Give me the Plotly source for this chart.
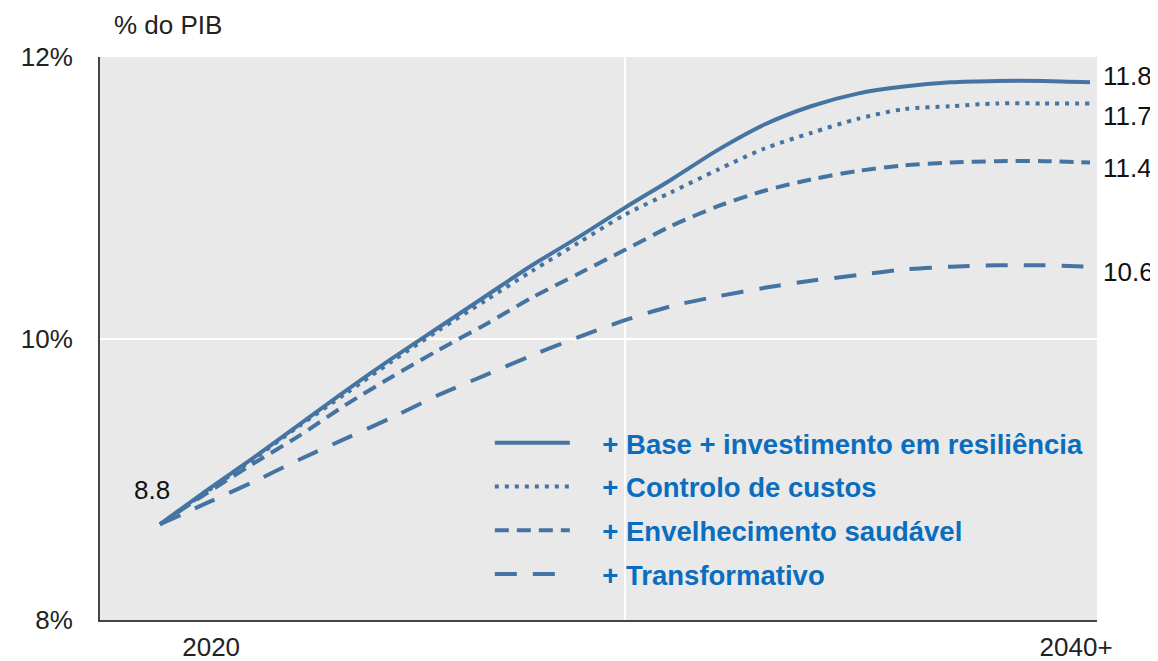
import plotly.graph_objects as go

# anos (2040 = "2040+")
anos = list(range(2020, 2041))

# % do PIB
base_resiliencia = [8.68, 8.92, 9.15, 9.39, 9.63, 9.86, 10.08, 10.30, 10.52, 10.72, 10.93,
                    11.13, 11.34, 11.52, 11.65, 11.74, 11.79, 11.82, 11.83, 11.83, 11.82]
controlo_custos = [8.68, 8.91, 9.14, 9.38, 9.61, 9.84, 10.06, 10.27, 10.48, 10.68, 10.88,
                   11.04, 11.20, 11.35, 11.46, 11.56, 11.63, 11.65, 11.67, 11.67, 11.67]
envelhecimento = [8.68, 8.90, 9.11, 9.31, 9.53, 9.73, 9.92, 10.10, 10.29, 10.46, 10.63,
                  10.80, 10.94, 11.05, 11.13, 11.19, 11.23, 11.25, 11.26, 11.26, 11.25]
transformativo = [8.68, 8.83, 8.98, 9.14, 9.29, 9.44, 9.60, 9.74, 9.88, 10.01, 10.13,
                  10.23, 10.30, 10.36, 10.41, 10.45, 10.49, 10.51, 10.52, 10.52, 10.51]

nomes = ['+ Base + investimento em resiliência', '+ Controlo de custos',
         '+ Envelhecimento saudável', '+ Transformativo']
rotulos_fim = ['11.8', '11.7', '11.4', '10.6']
rotulo_inicio = '8.8'

ytick_vals = [8, 10, 12]
ytick_text = ['8%', '10%', '12%']
xtick_text = ['2020', '2040+']

series = [base_resiliencia, controlo_custos, envelhecimento, transformativo]
tracos = ['solid', '4px,6px', '14px,8px', '22px,16px']
desvio_rotulo = [6, -13, -5, -5]  # deslocamento vertical dos rótulos finais

COR = '#4674a2'
FONTE = 'Liberation Sans, Arial'

fig = go.Figure()

for i, (nome, y) in enumerate(zip(nomes, series)):
    fig.add_trace(go.Scatter(
        x=anos, y=y, name='\u2003' + nome, mode='lines',
        line=dict(color=COR, width=4, dash=tracos[i], shape='spline', smoothing=0.8),
        legendgroup=str(i),
    ))
    fig.add_annotation(x=1.0, xref='paper', y=y[-1], yref='y', text=rotulos_fim[i],
                       showarrow=False, xanchor='left', xshift=4, yshift=desvio_rotulo[i],
                       font=dict(size=26, color='#111111', family=FONTE))

fig.add_annotation(x=anos[0], y=base_resiliencia[0], text=rotulo_inicio, showarrow=False,
                   yshift=34, xshift=-8, font=dict(size=26, color='#111111', family=FONTE))

fig.add_annotation(x=0.012, xref='paper', y=1.0, yref='paper', yshift=32, yanchor='middle',
                   text='% do PIB', showarrow=False,
                   font=dict(size=26, color='#222222', family=FONTE))

fig.add_vline(x=2030, line=dict(color='white', width=2), layer='below')

# a página tem 8px de margem no body: figura um pouco menor para caber na janela
fig.update_layout(
    width=1150, height=653,
    margin=dict(l=92, r=61, t=49, b=41, autoexpand=False),
    plot_bgcolor='#e9e9e9',
    paper_bgcolor='white',
    font=dict(family=FONTE, size=26, color='#222222'),
    showlegend=True,
    legend=dict(
        x=0.391, y=0.358, xanchor='left', yanchor='top',
        bgcolor='rgba(0,0,0,0)',
        font=dict(size=27.5, color='#0b6dbd', family=FONTE, weight='bold'),
        itemwidth=75, tracegroupgap=5,
    ),
    xaxis=dict(
        range=[2018.71, 2040.15], automargin=False,
        tickvals=[2021.1, 2039.7], ticktext=xtick_text,
        showgrid=False, zeroline=False,
        showline=True, linecolor='#444444', linewidth=2,
        ticks='', ticklabelstandoff=3, tickfont=dict(size=26, color='#222222'),
    ),
    yaxis=dict(
        range=[8, 12], automargin=False,
        tickvals=ytick_vals, ticktext=ytick_text,
        showgrid=True, gridcolor='white', gridwidth=2, zeroline=False,
        showline=True, linecolor='#444444', linewidth=2,
        ticks='', ticklabelstandoff=20, tickfont=dict(size=26, color='#222222'),
    ),
)

fig.write_html('out.html')
